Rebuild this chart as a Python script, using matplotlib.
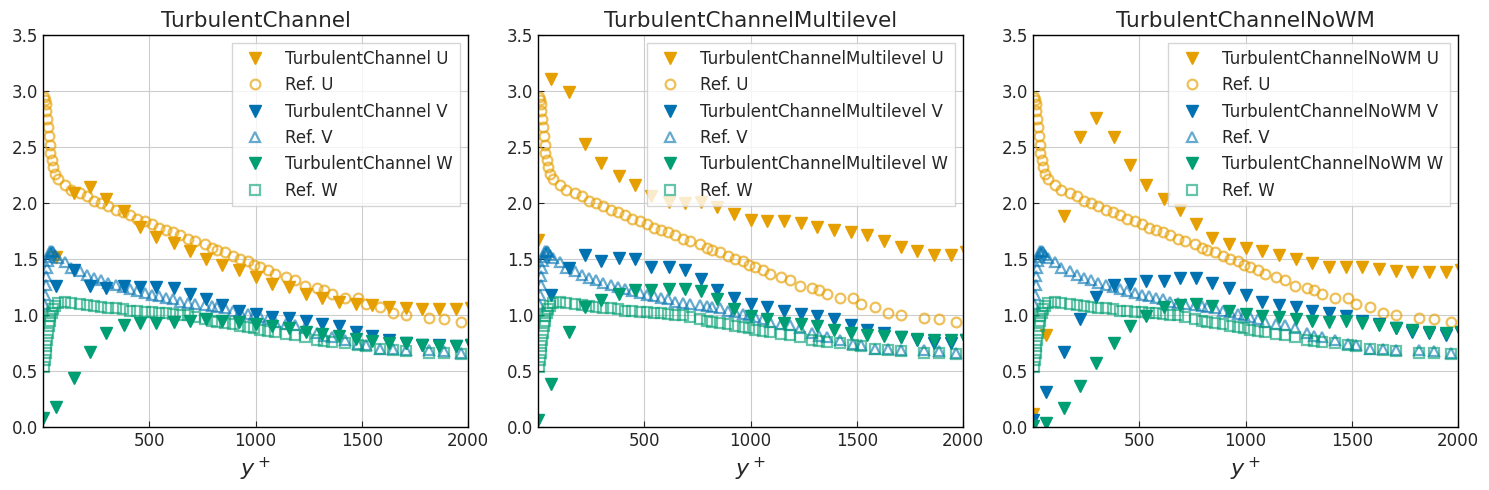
import numpy as np
import matplotlib
matplotlib.use("Agg")
import matplotlib.pyplot as plt

# reference (DNS) profiles
ref_x = [5, 9, 13, 16, 19, 23, 27, 31, 35, 40, 48, 58, 72, 102, 133, 173, 207, 239, 275, 306,
         342, 377, 411, 443, 479, 515, 546, 581, 612, 646, 683, 717, 764, 797, 819, 855, 894,
         929, 965, 992, 1023, 1059, 1090, 1145, 1185, 1232, 1290, 1321, 1362, 1420, 1483, 1519,
         1585, 1647, 1707, 1817, 1886, 1969]
ref_u = [2.95, 2.92, 2.88, 2.82, 2.75, 2.68, 2.60, 2.52, 2.45, 2.38, 2.32, 2.26, 2.21, 2.16, 2.12,
         2.09, 2.06, 2.02, 2.00, 1.97, 1.94, 1.92, 1.89, 1.86, 1.84, 1.81, 1.78, 1.76, 1.74, 1.71,
         1.68, 1.66, 1.63, 1.60, 1.58, 1.56, 1.53, 1.50, 1.48, 1.45, 1.43, 1.40, 1.37, 1.34, 1.31,
         1.26, 1.24, 1.22, 1.19, 1.15, 1.15, 1.10, 1.07, 1.02, 1.00, 0.97, 0.96, 0.94]
ref_v = [1.10, 1.18, 1.27, 1.35, 1.42, 1.48, 1.52, 1.55, 1.57, 1.57, 1.56, 1.54, 1.51, 1.47, 1.42,
         1.39, 1.36, 1.33, 1.31, 1.29, 1.27, 1.25, 1.23, 1.21, 1.20, 1.18, 1.17, 1.15, 1.14, 1.12,
         1.11, 1.10, 1.09, 1.08, 1.07, 1.06, 1.04, 1.03, 1.01, 1.00, 0.98, 0.96, 0.94, 0.92, 0.91,
         0.88, 0.84, 0.81, 0.80, 0.78, 0.74, 0.73, 0.70, 0.70, 0.69, 0.69, 0.68, 0.66]
ref_w = [0.54, 0.60, 0.66, 0.72, 0.78, 0.84, 0.90, 0.95, 0.99, 1.02, 1.05, 1.08, 1.11, 1.12, 1.11,
         1.10, 1.09, 1.08, 1.07, 1.06, 1.06, 1.05, 1.04, 1.04, 1.03, 1.03, 1.02, 1.02, 1.01, 1.00,
         1.00, 0.98, 0.96, 0.95, 0.94, 0.93, 0.92, 0.90, 0.89, 0.88, 0.87, 0.86, 0.85, 0.83, 0.82,
         0.80, 0.78, 0.77, 0.76, 0.75, 0.73, 0.72, 0.70, 0.69, 0.68, 0.66, 0.66, 0.65]

# simulation sample points
sim_x = [0, 63, 144, 223, 298, 380, 455, 533, 615, 690, 769, 844, 922, 1004, 1079, 1158, 1236,
         1314, 1393, 1471, 1550, 1628, 1707, 1785, 1864, 1942, 2015]
nan = np.nan

names = ["TurbulentChannel", "TurbulentChannelMultilevel", "TurbulentChannelNoWM"]

u_chan = [nan, 1.52, 2.09, 2.14, 2.04, 1.93, 1.79, 1.70, 1.64, 1.57, 1.50, 1.45, 1.40, 1.34, 1.28,
          1.25, 1.19, 1.15, 1.12, 1.10, 1.09, 1.07, 1.06, 1.05, 1.05, 1.05, 1.06]
v_chan = [nan, 1.26, 1.40, 1.26, 1.24, 1.26, 1.25, 1.25, 1.24, 1.19, 1.14, 1.09, 1.04, 1.01, 0.98,
          0.97, 0.95, 0.92, 0.90, 0.85, 0.81, 0.78, 0.75, 0.73, 0.73, 0.72, 0.73]
w_chan = [0.08, 0.18, 0.44, 0.67, 0.84, 0.91, 0.93, 0.93, 0.94, 0.95, 0.96, 0.95, 0.94, 0.92, 0.90,
          0.88, 0.85, 0.83, 0.81, 0.79, 0.77, 0.75, 0.75, 0.73, 0.72, 0.72, 0.73]

u_multi = [1.67, 3.11, 2.99, 2.53, 2.36, 2.24, 2.16, 2.06, 2.01, 2.00, 2.01, 1.96, 1.90, 1.85, 1.84,
           1.84, 1.82, 1.79, 1.76, 1.74, 1.71, 1.66, 1.61, 1.57, 1.54, 1.54, 1.56]
v_multi = [nan, 1.18, 1.42, 1.54, 1.48, 1.51, 1.50, 1.43, 1.43, 1.40, 1.32, 1.22, 1.15, 1.10, 1.07,
           1.04, 1.01, 0.99, 0.96, 0.91, 0.87, 0.84, 0.80, 0.78, 0.75, 0.75, 0.78]
w_multi = [0.06, 0.38, 0.85, 1.07, 1.13, 1.19, 1.22, 1.22, 1.23, 1.23, 1.21, 1.14, 1.05, 0.99, 0.96,
           0.93, 0.92, 0.90, 0.87, 0.84, 0.82, 0.81, 0.80, 0.79, 0.78, 0.78, 0.78]

u_nowm = [0.12, 0.82, 1.88, 2.59, 2.76, 2.59, 2.34, 2.16, 2.04, 1.94, 1.81, 1.69, 1.63, 1.60, 1.57,
          1.54, 1.50, 1.46, 1.43, 1.43, 1.43, 1.41, 1.39, 1.38, 1.38, 1.38, 1.40]
v_nowm = [0.06, 0.31, 0.67, 0.96, 1.16, 1.27, 1.28, 1.30, 1.30, 1.33, 1.33, 1.29, 1.24, 1.18, 1.12,
          1.09, 1.07, 1.04, 1.02, 0.99, 0.95, 0.92, 0.88, 0.85, 0.84, 0.82, 0.84]
w_nowm = [0.01, 0.04, 0.17, 0.37, 0.57, 0.75, 0.90, 0.99, 1.07, 1.09, 1.10, 1.08, 1.04, 1.01, 0.99,
          0.98, 0.96, 0.95, 0.94, 0.95, 0.93, 0.91, 0.88, 0.87, 0.85, 0.84, 0.85]

sims = [(u_chan, v_chan, w_chan), (u_multi, v_multi, w_multi), (u_nowm, v_nowm, w_nowm)]

c_u, c_v, c_w = "#E69F00", "#0072B2", "#009E73"
txt = "#262626"

fig = plt.figure(figsize=(14.89, 4.90), dpi=100)
lefts = [43, 538, 1033]
for k in range(3):
    ax = fig.add_axes([lefts[k] / 1489, 63 / 490, 425 / 1489, 392 / 490])
    u, v, w = sims[k]
    nm = names[k]
    ax.plot(sim_x, u, "v", color=c_u, ms=8.5, ls="none", label=nm + " U")
    ax.plot(ref_x, ref_u, "o", mfc="none", mec=c_u, mew=1.6, ms=7, alpha=0.65, ls="none", label="Ref. U")
    ax.plot(sim_x, v, "v", color=c_v, ms=8.5, ls="none", label=nm + " V")
    ax.plot(ref_x, ref_v, "^", mfc="none", mec=c_v, mew=1.6, ms=7, alpha=0.6, ls="none", label="Ref. V")
    ax.plot(sim_x, w, "v", color=c_w, ms=8.5, ls="none", label=nm + " W")
    ax.plot(ref_x, ref_w, "s", mfc="none", mec=c_w, mew=1.6, ms=6.5, alpha=0.6, ls="none", label="Ref. W")

    ax.set_xlim(0, 2000)
    ax.set_ylim(0, 3.5)
    ax.set_xticks([500, 1000, 1500, 2000])
    ax.set_yticks(np.arange(0, 3.51, 0.5))
    ax.grid(True, color="#cccccc", lw=0.8)
    ax.set_axisbelow(True)
    ax.tick_params(direction="in", labelsize=12, colors=txt, length=4)
    for sp in ax.spines.values():
        sp.set_color("black")
        sp.set_linewidth(1.0)
    ax.set_title(nm, fontsize=15.5, color=txt)
    ax.set_xlabel("$y^+$", fontsize=16, color=txt)
    leg = ax.legend(loc="upper right", fontsize=12, fancybox=False, framealpha=0.8,
                    edgecolor="#cccccc", labelcolor=txt)

fig.savefig("out.png", dpi=100)
